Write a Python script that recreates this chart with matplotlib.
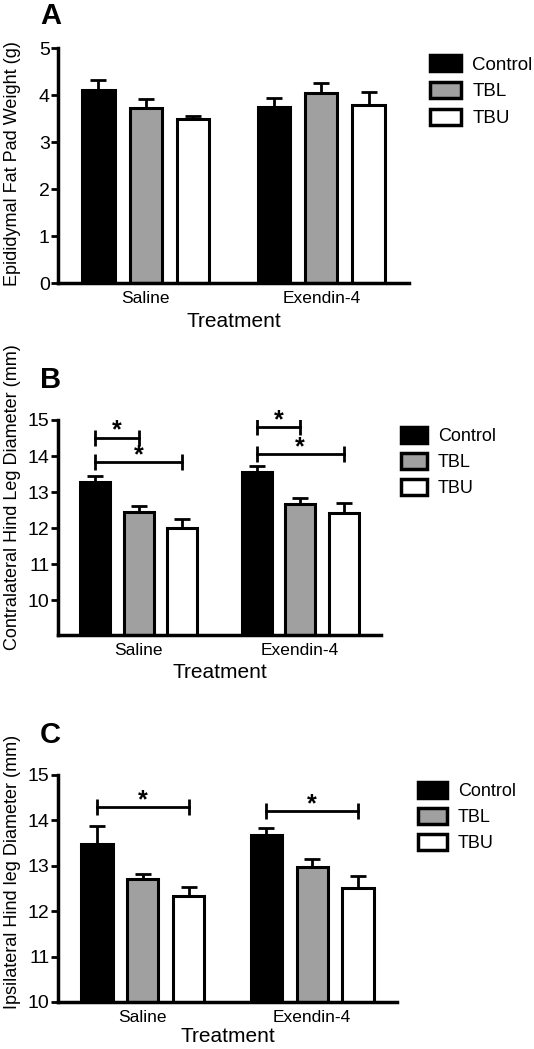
import numpy as np
import matplotlib.pyplot as plt
from matplotlib.patches import Patch

plt.rcParams['font.family'] = ['Liberation Sans', 'DejaVu Sans']

treatments = ["Saline", "Exendin-4"]
groups = ["Control", "TBL", "TBU"]
colors = ["black", "#a0a0a0", "white"]

# Panel A: epididymal fat pad weight (g)
fat_mean = [[4.11, 3.75], [3.72, 4.04], [3.49, 3.78]]
fat_err = [[0.21, 0.19], [0.19, 0.21], [0.06, 0.29]]

# Panel B: contralateral hind leg diameter (mm)
contra_mean = [[13.29, 13.56], [12.44, 12.66], [12.01, 12.42]]
contra_err = [[0.16, 0.15], [0.17, 0.18], [0.23, 0.27]]

# Panel C: ipsilateral hind leg diameter (mm)
ipsi_mean = [[13.47, 13.68], [12.72, 12.98], [12.33, 12.51]]
ipsi_err = [[0.41, 0.16], [0.09, 0.16], [0.20, 0.26]]

# significance brackets: (treatment index, group a, group b, y level)
contra_sig = [(0, 0, 1, 14.51), (0, 0, 2, 13.83), (1, 0, 1, 14.81), (1, 0, 2, 14.06)]
ipsi_sig = [(0, 0, 2, 14.29), (1, 0, 2, 14.20)]

step = 0.27
width = 0.185

W, H = 534, 1049
fig = plt.figure(figsize=(W / 100, H / 100), dpi=100)


def px_axes(left, right, top, bottom):
    return fig.add_axes([left / W, 1 - bottom / H, (right - left) / W, (bottom - top) / H])


def draw_panel(ax, means, errs, ylim, yticks, ylabel, label_y, xpad):
    x = np.arange(len(treatments))
    for i, g in enumerate(groups):
        m = np.array(means[i])
        e = np.array(errs[i])
        ax.bar(x + (i - 1) * step, m, width, color=colors[i], edgecolor="black",
               linewidth=2.2, zorder=2)
        ax.errorbar(x + (i - 1) * step, m, yerr=[np.zeros_like(e), e], fmt="none",
                    ecolor="black", elinewidth=2, capsize=6, capthick=2, zorder=1)
    ax.set_xlim(-0.5, 1.5)
    ax.set_ylim(*ylim)
    ax.set_yticks(yticks)
    ax.set_xticks(x)
    ax.set_xticklabels(treatments, fontsize=12.5)
    ax.tick_params(axis="x", length=0, pad=6)
    ax.tick_params(axis="y", length=5, width=2, labelsize=14, pad=1)
    for s in ["top", "right"]:
        ax.spines[s].set_visible(False)
    for s in ["left", "bottom"]:
        ax.spines[s].set_linewidth(2.5)
    ax.set_xlabel("Treatment", fontsize=15, labelpad=xpad)
    ax.set_ylabel(ylabel, fontsize=13)
    ax.yaxis.set_label_coords(label_y[0], label_y[1])


def draw_sig(ax, sigs):
    for t, a, b, y in sigs:
        x1 = t + (a - 1) * step
        x2 = t + (b - 1) * step
        ax.plot([x1, x2], [y, y], color="black", lw=2, marker="|", markersize=11,
                markeredgewidth=2, zorder=3)
        ax.annotate("*", ((x1 + x2) / 2, y), xytext=(0, 0), textcoords="offset points",
                    ha="center", va="baseline", fontsize=18, fontweight="bold")


def draw_legend(x, y, fs, hl, hh, sp):
    handles = [Patch(facecolor=c, edgecolor="black", linewidth=2.5) for c in colors]
    fig.legend(handles, groups, loc="upper left", bbox_to_anchor=(x / W, 1 - y / H),
               frameon=False, fontsize=fs, handlelength=hl, handleheight=hh,
               labelspacing=sp, borderpad=0, borderaxespad=0, handletextpad=0.6)


axA = px_axes(58, 409, 48, 283)
draw_panel(axA, fat_mean, fat_err, (0, 5), range(0, 6),
           "Epididymal Fat Pad Weight (g)", (-0.105, 0.51), 4)
fig.text(40 / W, 1 - 16 / H, "A", fontsize=21, fontweight="bold", va="center")
draw_legend(430, 55, 13.5, 1.65, 0.95, 0.45)

axB = px_axes(58, 381, 420, 635)
draw_panel(axB, contra_mean, contra_err, (9.03, 15), range(10, 16),
           "Contralateral Hind Leg Diameter (mm)", (-0.114, 0.64), 3)
draw_sig(axB, contra_sig)
fig.text(40 / W, 1 - 380 / H, "B", fontsize=21, fontweight="bold", va="center")
draw_legend(401, 427, 13, 1.45, 0.95, 0.45)

axC = px_axes(58, 397, 775, 1002)
draw_panel(axC, ipsi_mean, ipsi_err, (10, 15), range(10, 16),
           "Ipsilateral Hind leg Diameter (mm)", (-0.109, 0.575), 1)
draw_sig(axC, ipsi_sig)
fig.text(40 / W, 1 - 735 / H, "C", fontsize=21, fontweight="bold", va="center")
draw_legend(418, 782, 13, 1.6, 0.95, 0.45)

plt.savefig("out.png", dpi=100)
plt.close()
